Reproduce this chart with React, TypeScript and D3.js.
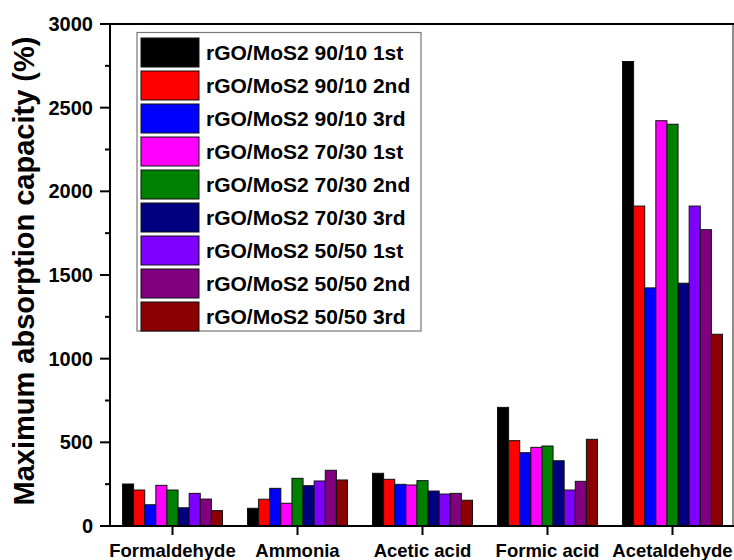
import { useRef, useEffect } from 'react';
import * as d3 from 'd3';

const gases = ['Formaldehyde', 'Ammonia', 'Acetic acid', 'Formic acid', 'Acetaldehyde'];

const seriesNames = [
  'rGO/MoS2 90/10 1st',
  'rGO/MoS2 90/10 2nd',
  'rGO/MoS2 90/10 3rd',
  'rGO/MoS2 70/30 1st',
  'rGO/MoS2 70/30 2nd',
  'rGO/MoS2 70/30 3rd',
  'rGO/MoS2 50/50 1st',
  'rGO/MoS2 50/50 2nd',
  'rGO/MoS2 50/50 3rd',
];

const seriesColors = [
  '#000000', '#ff0000', '#0000ff', '#ff00ff', '#008000',
  '#000080', '#8000ff', '#800080', '#8b0000',
];

// one row per gas, one value per series
const formaldehyde = [251, 215, 127, 243, 215, 109, 195, 161, 92];
const ammonia = [106, 160, 225, 136, 285, 241, 269, 333, 275];
const aceticAcid = [315, 279, 249, 245, 271, 209, 191, 195, 154];
const formicAcid = [709, 510, 438, 470, 478, 390, 215, 267, 518];
const acetaldehyde = [2776, 1912, 1423, 2422, 2401, 1451, 1912, 1771, 1146];

const values = [formaldehyde, ammonia, aceticAcid, formicAcid, acetaldehyde];

const yTicks = [0, 500, 1000, 1500, 2000, 2500, 3000];
const yMinorTicks = [250, 750, 1250, 1750, 2250, 2750];

const FONT = "Arial, 'Liberation Sans', sans-serif";

export default function App() {
  const svgRef = useRef<SVGSVGElement>(null);

  useEffect(() => {
    if (!svgRef.current) return;
    const svg = d3.select(svgRef.current);
    svg.selectAll('*').remove();

    const W = 734;
    const H = 560;
    const left = 110;
    const right = 733;
    const top = 24;
    const bottom = 526;

    svg.attr('width', W).attr('height', H);
    svg.append('rect').attr('width', W).attr('height', H).attr('fill', '#fff');

    const x0 = d3
      .scaleBand<string>()
      .domain(gases)
      .range([left, left + 625])
      .paddingInner(0.2)
      .paddingOuter(0.1);
    const x1 = d3
      .scaleBand<string>()
      .domain(seriesNames)
      .range([0, x0.bandwidth()])
      .padding(0);
    const y = d3.scaleLinear().domain([0, 3000]).range([bottom, top]);

    // Bars
    gases.forEach((gas, gi) => {
      const g = svg.append('g').attr('transform', `translate(${x0(gas)},0)`);
      seriesNames.forEach((name, si) => {
        const v = values[gi][si];
        g.append('rect')
          .attr('x', x1(name)!)
          .attr('y', y(v))
          .attr('width', x1.bandwidth())
          .attr('height', y(0) - y(v))
          .attr('fill', seriesColors[si])
          .attr('stroke', '#111')
          .attr('stroke-width', 1);
      });
    });

    // Frame
    svg.append('line')
      .attr('x1', right).attr('x2', right).attr('y1', top).attr('y2', bottom)
      .attr('stroke', '#666').attr('stroke-width', 1.5);
    svg.append('line')
      .attr('x1', left).attr('x2', right + 1).attr('y1', top).attr('y2', top)
      .attr('stroke', '#000').attr('stroke-width', 2);

    // Y axis
    const yAxis = svg.append('g').attr('transform', `translate(${left},0)`);
    yAxis.append('line')
      .attr('x1', 0).attr('x2', 0).attr('y1', top - 1).attr('y2', bottom + 1)
      .attr('stroke', '#000').attr('stroke-width', 2);
    yAxis.selectAll('line.major')
      .data(yTicks)
      .join('line')
      .attr('class', 'major')
      .attr('x1', -10).attr('x2', 0)
      .attr('y1', (d) => y(d)).attr('y2', (d) => y(d))
      .attr('stroke', '#000').attr('stroke-width', 2);
    yAxis.selectAll('line.minor')
      .data(yMinorTicks)
      .join('line')
      .attr('class', 'minor')
      .attr('x1', -5).attr('x2', 0)
      .attr('y1', (d) => y(d)).attr('y2', (d) => y(d))
      .attr('stroke', '#000').attr('stroke-width', 2);
    yAxis.selectAll('text')
      .data(yTicks)
      .join('text')
      .attr('x', -17)
      .attr('y', (d) => y(d))
      .attr('text-anchor', 'end')
      .attr('dominant-baseline', 'central')
      .attr('font-family', FONT)
      .attr('font-weight', 'bold')
      .attr('font-size', '20px')
      .attr('fill', '#000')
      .text((d) => String(d));

    // X axis
    const xAxis = svg.append('g');
    xAxis.append('line')
      .attr('x1', left - 1).attr('x2', right + 1).attr('y1', bottom).attr('y2', bottom)
      .attr('stroke', '#000').attr('stroke-width', 2);
    xAxis.selectAll('line.tick')
      .data(gases)
      .join('line')
      .attr('class', 'tick')
      .attr('x1', (d) => x0(d)! + x0.bandwidth() / 2)
      .attr('x2', (d) => x0(d)! + x0.bandwidth() / 2)
      .attr('y1', bottom).attr('y2', bottom + 9)
      .attr('stroke', '#000').attr('stroke-width', 2);
    xAxis.selectAll('text')
      .data(gases)
      .join('text')
      .attr('x', (d) => x0(d)! + x0.bandwidth() / 2)
      .attr('y', 557)
      .attr('text-anchor', 'middle')
      .attr('font-family', FONT)
      .attr('font-weight', 'bold')
      .attr('font-size', '18.5px')
      .attr('fill', '#000')
      .text((d) => d);

    // Y title
    svg.append('text')
      .attr('transform', `translate(34,271) rotate(-90)`)
      .attr('text-anchor', 'middle')
      .attr('font-family', FONT)
      .attr('font-weight', 'bold')
      .attr('font-size', '29px')
      .attr('fill', '#000')
      .text('Maximum absorption capacity (%)');

    // Legend
    const lg = svg.append('g');
    lg.append('rect')
      .attr('x', 137).attr('y', 32.5)
      .attr('width', 284).attr('height', 298.5)
      .attr('fill', '#fff')
      .attr('stroke', '#777')
      .attr('stroke-width', 1.2);
    seriesNames.forEach((name, i) => {
      const ty = 38 + i * 33;
      lg.append('rect')
        .attr('x', 141).attr('y', ty)
        .attr('width', 58).attr('height', 29)
        .attr('fill', seriesColors[i])
        .attr('stroke', '#111')
        .attr('stroke-width', 1);
      lg.append('text')
        .attr('x', 206)
        .attr('y', ty + 14.5)
        .attr('dominant-baseline', 'central')
        .attr('font-family', FONT)
        .attr('font-weight', 'bold')
        .attr('font-size', '21px')
        .attr('fill', '#000')
        .text(name);
    });
  }, []);

  return (
    <div style={{ position: 'absolute', left: 0, top: 0 }}>
      <svg ref={svgRef} style={{ display: 'block' }} />
    </div>
  );
}
